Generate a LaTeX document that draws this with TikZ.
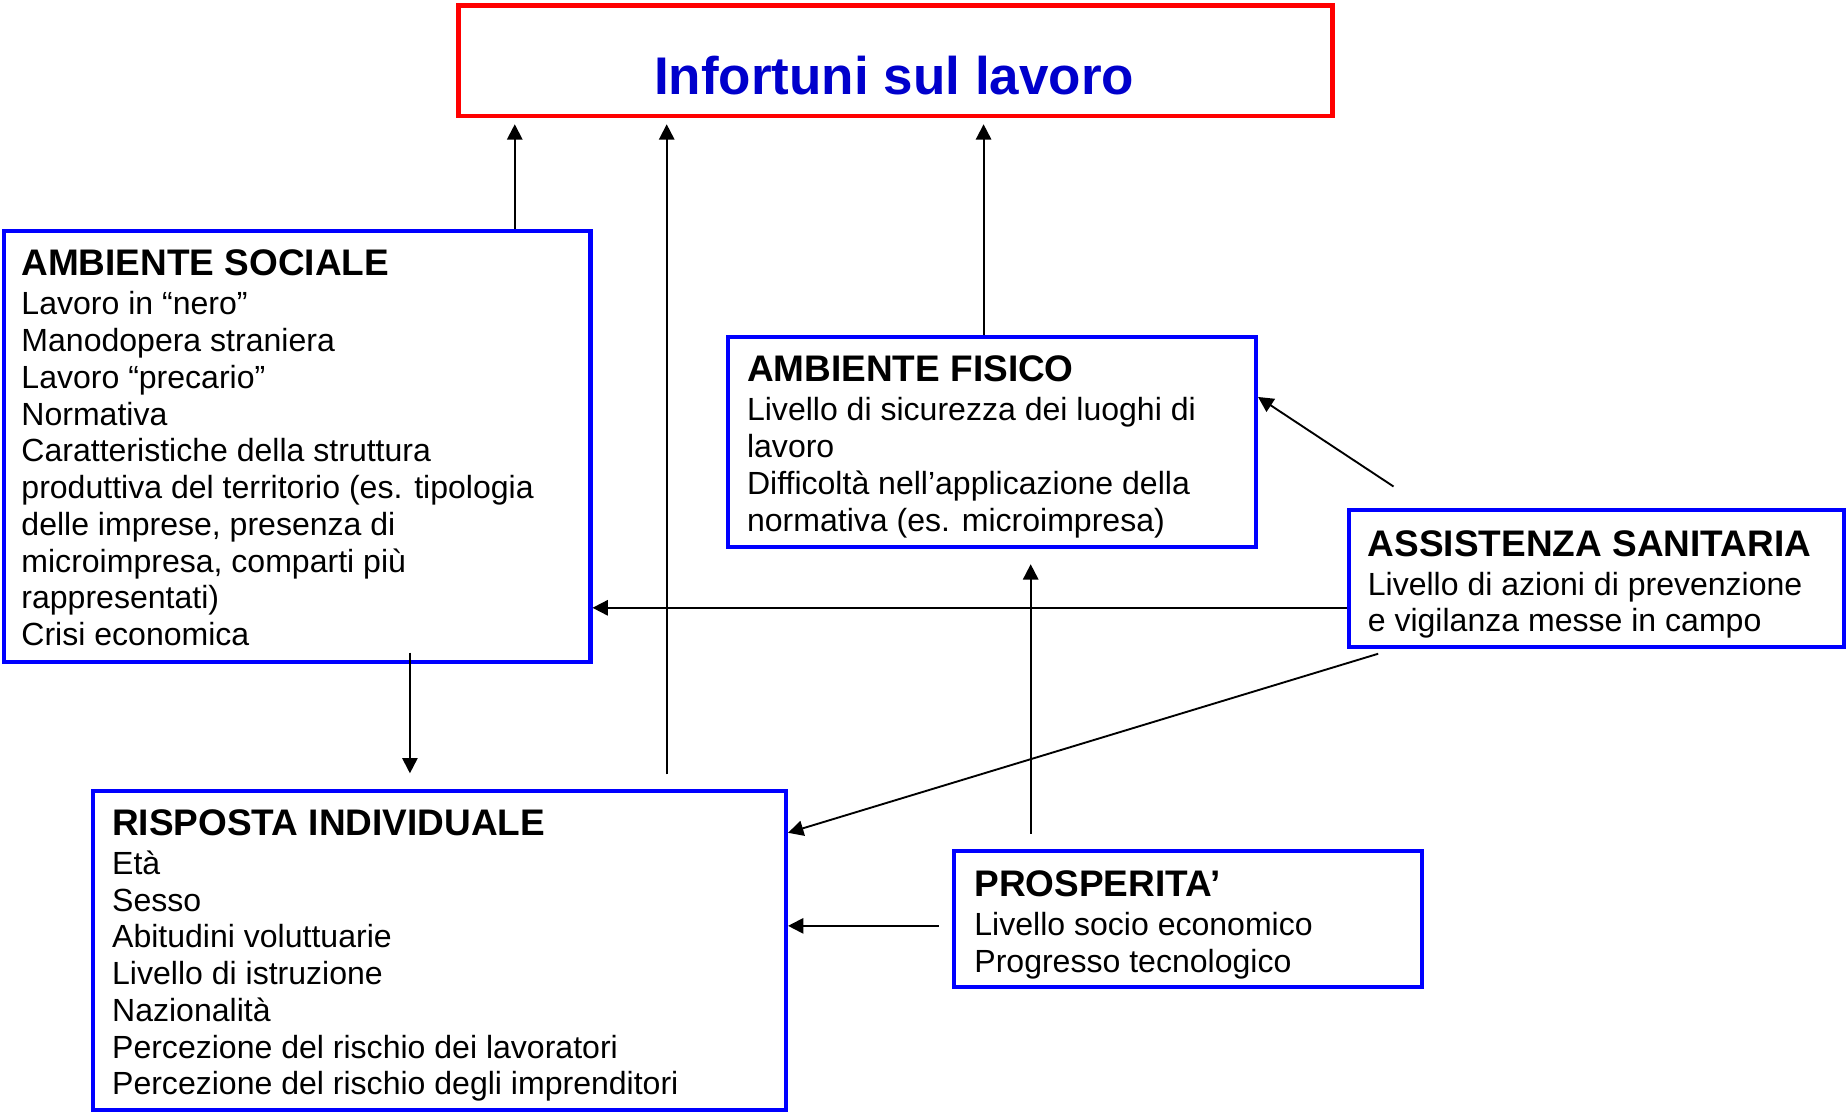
\documentclass[tikz,border=0pt]{standalone}
\usepackage{fontspec}
\setmainfont{Liberation Sans}
\usetikzlibrary{arrows.meta}
\definecolor{boxblue}{RGB}{0,0,255}
\definecolor{titleblue}{RGB}{0,0,204}
\definecolor{boxred}{RGB}{255,0,0}
\begin{document}
\begin{tikzpicture}[x=1pt,y=-1pt,
  bbox/.style={draw=boxblue,line width=3.5pt,anchor=north west,inner sep=0pt},
  rbox/.style={draw=boxred,line width=4pt,anchor=north west,inner sep=0pt},
  txt/.style={anchor=north west,inner sep=0pt,align=left,font=\fontsize{27.2}{31.2}\selectfont},
  arr/.style={line width=1.6pt,-{Triangle[length=13pt,width=13pt]}}]
\fill[white] (0,0) rectangle (1568,944);
\useasboundingbox (0,0) rectangle (1568,944);

% boxes
\node[rbox,minimum width=742pt,minimum height=94pt] (top) at (387,2.5) {};
\node[font=\fontsize{45}{54}\selectfont\bfseries,text=titleblue,anchor=base,inner sep=0pt] (tt) at (759,80) {Infortuni sul lavoro};

\node[bbox,minimum width=498pt,minimum height=366pt] (as) at (1.5,194.5) {};
\node[bbox,minimum width=448pt,minimum height=178pt] (af) at (616.5,284.5) {};
\node[bbox,minimum width=420pt,minimum height=116pt] (sa) at (1143.5,431.5) {};
\node[bbox,minimum width=588pt,minimum height=271pt] (ri) at (77.5,669.5) {};
\node[bbox,minimum width=397pt,minimum height=116pt] (pr) at (808.5,720.5) {};

% texts
\node[txt] (ast) at (18,209) {{\fontsize{31.4}{36}\selectfont\bfseries\rule{0pt}{25pt}AMBIENTE SOCIALE}\\[1.8pt]
Lavoro in “nero”\\
Manodopera straniera\\
Lavoro “precario”\\
Normativa\\
Caratteristiche della struttura\\
produttiva del territorio (es. tipologia\\
delle imprese, presenza di\\
microimpresa, comparti più\\
rappresentati)\\
Crisi economica};

\node[txt] (aft) at (634,299) {{\fontsize{31.4}{36}\selectfont\bfseries\rule{0pt}{25pt}AMBIENTE FISICO}\\[1.8pt]
Livello di sicurezza dei luoghi di\\
lavoro\\
Difficoltà nell’applicazione della\\
normativa (es. microimpresa)};

\node[txt] (sat) at (1161,447) {{\fontsize{31.4}{36}\selectfont\bfseries\rule{0pt}{25pt}ASSISTENZA SANITARIA}\\[1.8pt]
Livello di azioni di prevenzione\\
e vigilanza messe in campo};

\node[txt] (rit) at (95,684) {{\fontsize{31.4}{36}\selectfont\bfseries\rule{0pt}{25pt}RISPOSTA INDIVIDUALE}\\[1.8pt]
Età\\
Sesso\\
Abitudini voluttuarie\\
Livello di istruzione\\
Nazionalità\\
Percezione del rischio dei lavoratori\\
Percezione del rischio degli imprenditori};

\node[txt] (prt) at (827,736) {{\fontsize{31.4}{36}\selectfont\bfseries\rule{0pt}{25pt}PROSPERITA’}\\[1.8pt]
Livello socio economico\\
Progresso tecnologico};

% helper coordinates
\coordinate (c437) at (437,0);
\coordinate (c566) at (566,0);
\coordinate (c835) at (835,0);
\coordinate (c875) at (875,0);
\coordinate (y337) at (0,337);
\coordinate (y516) at (0,516);
\coordinate (y707) at (0,707);
\coordinate (y786) at (0,786);
\coordinate (h1) at (1183,413);
\coordinate (h2) at (1170,555);
\coordinate (h3) at (875,708);
\coordinate (h4) at (797,786);
\coordinate (h5) at (348,554);

% connectors
\draw[arr,shorten >=5pt] (as.north -| c437) -- (top.south -| c437);
\draw[arr,shorten <=12pt,shorten >=5pt] (ri.north -| c566) -- (top.south -| c566);
\draw[arr,shorten >=5pt] (af.north -| c835) -- (top.south -| c835);
\draw[arr] (h1) -- (af.east |- y337);
\draw[arr] (sa.west |- y516) -- (as.east |- y516);
\draw[arr] (h2) -- (ri.east |- y707);
\draw[arr,shorten >=13pt] (h3) -- (af.south -| c875);
\draw[arr] (h4) -- (ri.east |- y786);
\draw[arr,shorten >=13pt] (h5) -- (ri.north -| h5);
\end{tikzpicture}
\end{document}
